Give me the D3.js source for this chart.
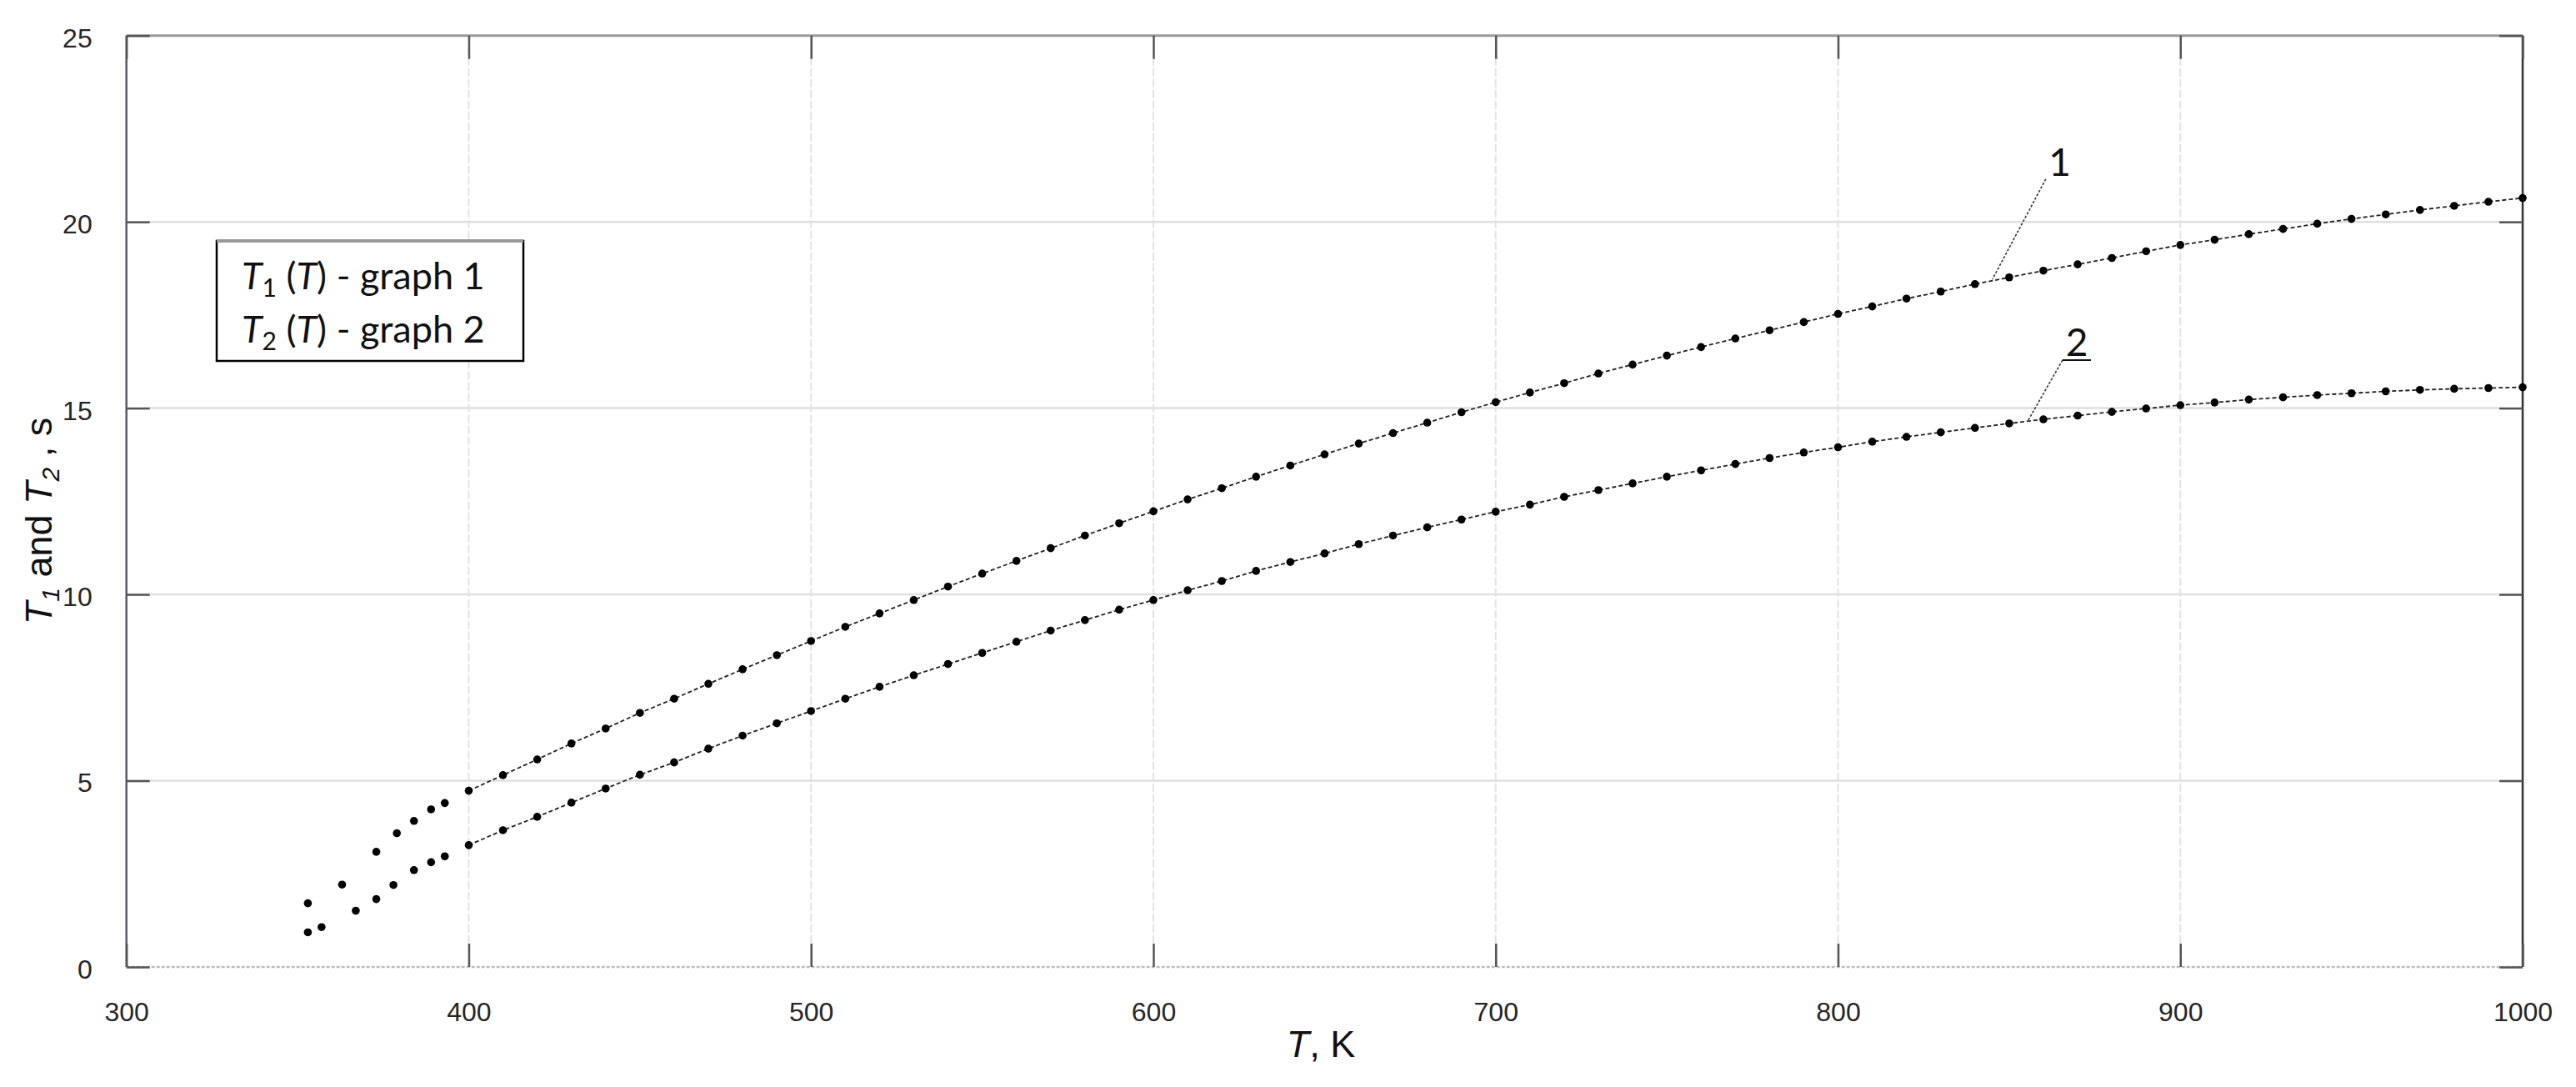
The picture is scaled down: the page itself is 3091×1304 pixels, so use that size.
<!DOCTYPE html>
<html><head><meta charset="utf-8">
<script src="https://cdn.jsdelivr.net/npm/d3@7/dist/d3.min.js"></script>
<style>body{margin:0;background:#fff}svg{display:block}</style>
</head><body><svg id="chart"></svg>
<script>
// ---- data ----
const scatterTemps1 = [353, 363, 373, 379, 384, 389, 393];
const scatterT1 = [1.71, 2.21, 3.09, 3.59, 3.92, 4.23, 4.40];
const scatterTemps2 = [353, 357, 367, 373, 378, 384, 389, 393];
const scatterT2 = [0.93, 1.07, 1.51, 1.82, 2.20, 2.60, 2.81, 2.97];

const temps = [400, 410, 420, 430, 440, 450, 460, 470, 480, 490,
  500, 510, 520, 530, 540, 550, 560, 570, 580, 590,
  600, 610, 620, 630, 640, 650, 660, 670, 680, 690,
  700, 710, 720, 730, 740, 750, 760, 770, 780, 790,
  800, 810, 820, 830, 840, 850, 860, 870, 880, 890,
  900, 910, 920, 930, 940, 950, 960, 970, 980, 990, 1000];
const t1Values = [4.73, 5.15, 5.57, 6.00, 6.40, 6.82, 7.20, 7.60, 7.99, 8.37,
  8.75, 9.13, 9.49, 9.85, 10.21, 10.56, 10.90, 11.24, 11.58, 11.91,
  12.23, 12.55, 12.85, 13.16, 13.46, 13.76, 14.05, 14.33, 14.61, 14.89,
  15.16, 15.42, 15.67, 15.93, 16.17, 16.41, 16.64, 16.87, 17.09, 17.31,
  17.53, 17.73, 17.94, 18.13, 18.33, 18.51, 18.69, 18.86, 19.03, 19.21,
  19.38, 19.52, 19.67, 19.81, 19.95, 20.08, 20.20, 20.32, 20.43, 20.54, 20.64];
const t2Values = [3.27, 3.67, 4.03, 4.41, 4.79, 5.16, 5.49, 5.86, 6.21, 6.54,
  6.87, 7.20, 7.52, 7.83, 8.13, 8.43, 8.73, 9.03, 9.31, 9.59,
  9.85, 10.11, 10.36, 10.63, 10.87, 11.10, 11.35, 11.58, 11.80, 12.01,
  12.22, 12.41, 12.62, 12.80, 12.98, 13.16, 13.33, 13.50, 13.66, 13.81,
  13.95, 14.10, 14.23, 14.35, 14.47, 14.59, 14.70, 14.80, 14.90, 14.99,
  15.08, 15.15, 15.23, 15.29, 15.35, 15.40, 15.45, 15.49, 15.52, 15.54, 15.56];

const xTicks = [300, 400, 500, 600, 700, 800, 900, 1000];
const yTicks = [0, 5, 10, 15, 20, 25];
const xDomain = [300, 1000];
const yDomain = [0, 25];

const legendEntries = [{sub: "1", text: " - graph 1"}, {sub: "2", text: " - graph 2"}];
// callout labels: text, text anchor (x,y) in data units, leader from/to in data units
const calloutLabels = ["1", "2"];
const calloutTextPos = [[864.8, 21.24], [869.8, 16.40]];
const calloutLeaderFrom = [[860.7, 21.15], [865.6, 16.29]];
const calloutLeaderTo = [[845.1, 18.46], [855.6, 14.68]];
const calloutUnderline = [false, true];

// ---- layout ----
const W = 3091, H = 1304;
const L = 151.7, R = 3027, T = 42.7, B = 1160;
const svg = d3.select("#chart").attr("width", W).attr("height", H);
svg.append("rect").attr("width", W).attr("height", H).attr("fill", "#fff");

const x = d3.scaleLinear().domain(xDomain).range([L, R]);
const y = d3.scaleLinear().domain(yDomain).range([B, T]);

// grid
const grid = svg.append("g");
grid.selectAll("line.gx").data(xTicks.slice(1, -1)).join("line")
  .attr("x1", d => x(d)).attr("x2", d => x(d)).attr("y1", T).attr("y2", B)
  .attr("stroke", "#e3e3e3").attr("stroke-width", 2).attr("stroke-dasharray", "10,3");
grid.selectAll("line.gy").data(yTicks.slice(1, -1)).join("line")
  .attr("x1", L).attr("x2", R).attr("y1", d => y(d)).attr("y2", d => y(d))
  .attr("stroke", "#e0e0e0").attr("stroke-width", 2.5);

// frame
svg.append("line").attr("x1", L).attr("x2", R).attr("y1", B).attr("y2", B)
  .attr("stroke", "#bdbdbd").attr("stroke-width", 2.5).attr("stroke-dasharray", "4,2");
svg.append("line").attr("x1", L).attr("x2", R).attr("y1", T).attr("y2", T)
  .attr("stroke", "#999").attr("stroke-width", 3);
svg.append("line").attr("x1", L).attr("x2", L).attr("y1", T).attr("y2", B)
  .attr("stroke", "#5a5a6a").attr("stroke-width", 2.5);
svg.append("line").attr("x1", R).attr("x2", R).attr("y1", T).attr("y2", B)
  .attr("stroke", "#333").attr("stroke-width", 2.5);

// axes with inward ticks
const tickLen = 28;
const fontAxis = "'Liberation Sans', Arial, sans-serif";
const xAxisB = d3.axisBottom(x).tickValues(xTicks).tickSize(-tickLen).tickPadding(tickLen + 14).tickFormat(d3.format("d"));
const gxb = svg.append("g").attr("transform", `translate(0,${B})`).call(xAxisB);
const xAxisT = d3.axisTop(x).tickValues(xTicks).tickSize(-tickLen).tickFormat("");
const gxt = svg.append("g").attr("transform", `translate(0,${T})`).call(xAxisT);
const yAxisL = d3.axisLeft(y).tickValues(yTicks).tickSize(-tickLen).tickPadding(tickLen + 13).tickFormat(d3.format("d"));
const gyl = svg.append("g").attr("transform", `translate(${L},0)`).call(yAxisL);
const yAxisR = d3.axisRight(y).tickValues(yTicks).tickSize(-tickLen).tickFormat("");
const gyr = svg.append("g").attr("transform", `translate(${R},0)`).call(yAxisR);
[gxb, gxt, gyl, gyr].forEach(g => {
  g.select(".domain").remove();
  g.selectAll(".tick line").attr("stroke", "#555").attr("stroke-width", 2.5);
  g.selectAll(".tick text").attr("font-family", fontAxis).attr("font-size", 32).attr("fill", "#262626");
});
gyl.selectAll(".tick text").attr("dy", "0.42em");
gxb.selectAll(".tick text").attr("dy", "0.71em");

// axis titles
const xt = svg.append("text").attr("x", 1585).attr("y", 1268).attr("text-anchor", "middle")
  .attr("font-family", fontAxis).attr("font-size", 45).attr("fill", "#111");
xt.append("tspan").attr("font-style", "italic").text("T");
xt.append("tspan").text(", K");

const yt = svg.append("text").attr("transform", "translate(62,625) rotate(-90)").attr("text-anchor", "middle")
  .attr("font-family", fontAxis).attr("font-size", 45).attr("fill", "#111");
yt.append("tspan").attr("font-style", "italic").text("T");
yt.append("tspan").attr("font-style", "italic").attr("font-size", 30).attr("dy", 9).text("1");
yt.append("tspan").attr("dy", -9).text(" and ");
yt.append("tspan").attr("font-style", "italic").text("T");
yt.append("tspan").attr("font-style", "italic").attr("font-size", 30).attr("dy", 9).text("2");
yt.append("tspan").attr("dy", -9).text(" , s");

// series lines (from 400 K on)
const line = d3.line().x(d => x(d[0])).y(d => y(d[1]));
const s1 = temps.map((t, i) => [t, t1Values[i]]);
const s2 = temps.map((t, i) => [t, t2Values[i]]);
[s1, s2].forEach(s => {
  svg.append("path").attr("d", line(s)).attr("fill", "none")
    .attr("stroke", "#222").attr("stroke-width", 1.8).attr("stroke-dasharray", "5,3");
});

// markers
const pts = [].concat(
  scatterTemps1.map((t, i) => [t, scatterT1[i]]),
  scatterTemps2.map((t, i) => [t, scatterT2[i]]),
  s1, s2);
svg.append("g").selectAll("circle").data(pts).join("circle")
  .attr("cx", d => x(d[0])).attr("cy", d => y(d[1])).attr("r", 4.8).attr("fill", "#000");

// callouts
const fontLabel = "Lato, 'Open Sans', sans-serif";
calloutLabels.forEach((lab, i) => {
  svg.append("line")
    .attr("x1", x(calloutLeaderFrom[i][0])).attr("y1", y(calloutLeaderFrom[i][1]))
    .attr("x2", x(calloutLeaderTo[i][0])).attr("y2", y(calloutLeaderTo[i][1]))
    .attr("stroke", "#333").attr("stroke-width", 1.6).attr("stroke-dasharray", "3,2");
  svg.append("text").attr("x", x(calloutTextPos[i][0])).attr("y", y(calloutTextPos[i][1]))
    .attr("text-anchor", "middle").attr("font-family", fontLabel).attr("font-size", 46)
    .attr("fill", "#111").text(lab);
  if (calloutUnderline[i]) {
    svg.append("line")
      .attr("x1", x(calloutLeaderFrom[i][0])).attr("y1", y(calloutLeaderFrom[i][1]))
      .attr("x2", x(calloutLeaderFrom[i][0]) + 34).attr("y2", y(calloutLeaderFrom[i][1]))
      .attr("stroke", "#111").attr("stroke-width", 2);
  }
});

// legend
const lg = svg.append("g");
lg.append("rect").attr("x", 260).attr("y", 289).attr("width", 368).attr("height", 144)
  .attr("fill", "#fff").attr("stroke", "#000").attr("stroke-width", 2.5);
lg.append("line").attr("x1", 260).attr("x2", 628).attr("y1", 289).attr("y2", 289)
  .attr("stroke", "#999").attr("stroke-width", 4);
legendEntries.forEach((e, i) => {
  const t = lg.append("text").attr("x", 290).attr("y", 347 + i * 64)
    .attr("font-family", fontLabel).attr("font-size", 45).attr("fill", "#111");
  t.append("tspan").attr("font-style", "italic").text("T");
  t.append("tspan").attr("font-size", 30).attr("dy", 9).text(e.sub);
  t.append("tspan").attr("dy", -9).text(" (");
  t.append("tspan").attr("font-style", "italic").text("T");
  t.append("tspan").text(")" + e.text);
});
</script>
</body></html>
